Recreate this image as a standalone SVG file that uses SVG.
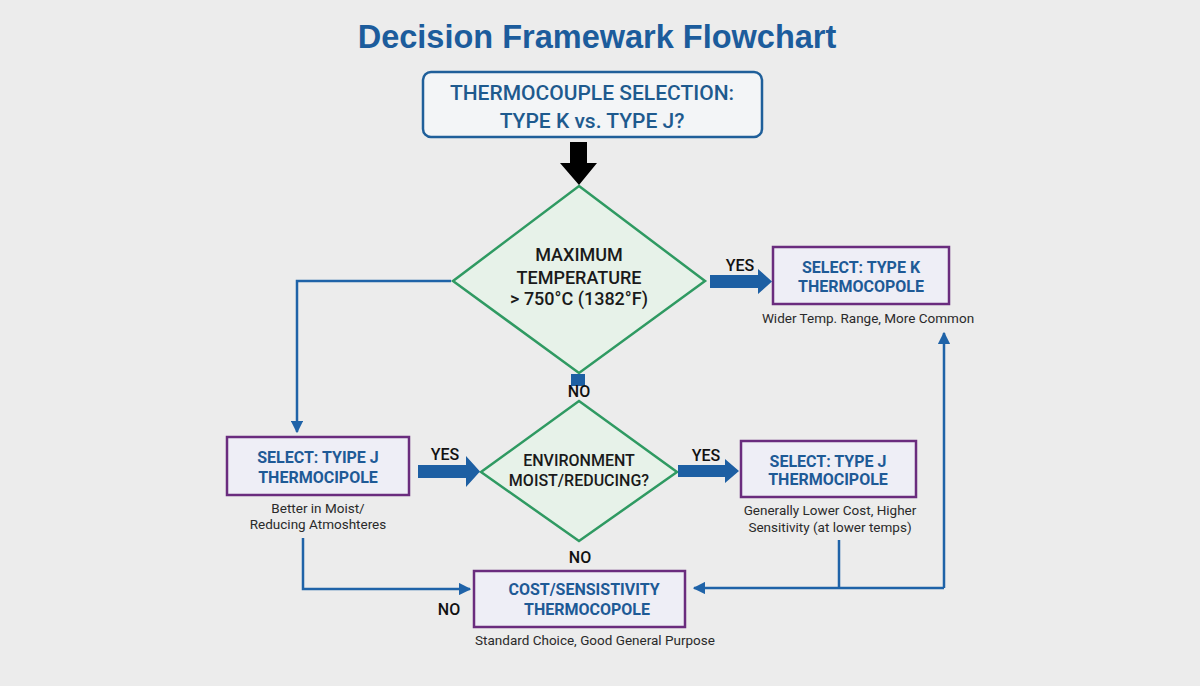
<svg xmlns="http://www.w3.org/2000/svg" width="1200" height="686" viewBox="0 0 1200 686">
<defs>
<style>
.title{font-family:"Liberation Sans",Arial,sans-serif;font-weight:700;font-size:32.5px;fill:#1c5c9c;text-anchor:middle}
.head{font-family:Roboto,"Liberation Sans",sans-serif;font-weight:500;font-size:21px;fill:#1e5a8e;text-anchor:middle}
.dtxt{font-family:Roboto,"Liberation Sans",sans-serif;font-weight:500;font-size:18px;fill:#1a1a1a;text-anchor:middle}
.btxt{font-family:Roboto,"Liberation Sans",sans-serif;font-weight:700;font-size:16px;fill:#1e5a96;text-anchor:middle}
.cap{font-family:Roboto,"Liberation Sans",sans-serif;font-size:13.5px;fill:#2a2a2a;text-anchor:middle}
.lbl{font-family:Roboto,"Liberation Sans",sans-serif;font-weight:500;font-size:16px;fill:#111;text-anchor:middle}
.diamond{fill:#e7f2e9;stroke:#2f9a62;stroke-width:2.5}
.box{fill:#eeeef6;stroke:#6a2c7e;stroke-width:2.5}
.line{fill:none;stroke:#1f63a8;stroke-width:2.5}
.fat{fill:#1d5fa3}
</style>
<marker id="ah" viewBox="0 0 10 10" refX="9" refY="5" markerWidth="5" markerHeight="5" orient="auto" markerUnits="strokeWidth">
<path d="M0,0 L10,5 L0,10 z" fill="#1f63a8"/>
</marker>
</defs>
<rect width="1200" height="686" fill="#ececec"/>
<text class="title" x="597" y="48">Decision Framewark Flowchart</text>

<g id="start">
<rect x="423" y="72" width="339" height="65" rx="8" fill="#f3f5f7" stroke="#1f5f9a" stroke-width="2.5"/>
<text class="head" x="592" y="100">THERMOCOUPLE SELECTION:</text>
<text class="head" x="592" y="128">TYPE K vs. TYPE J?</text>
</g>

<g id="decision-temp">
<polygon class="diamond" points="579,186 705,281 579,373 453,281"/>
<text class="dtxt" x="579" y="261">MAXIMUM</text>
<text class="dtxt" x="579" y="284">TEMPERATURE</text>
<text class="dtxt" x="579" y="305">&gt; 750°C (1382°F)</text>
</g>

<g id="decision-env">
<polygon class="diamond" points="579,401 677,472 579,541 481,472"/>
<text class="dtxt" x="579" y="466" style="font-size:16px">ENVIRONMENT</text>
<text class="dtxt" x="579" y="486" style="font-size:16px">MOIST/REDUCING?</text>
</g>

<g id="type-k">
<rect class="box" x="773" y="247" width="176" height="57"/>
<text class="btxt" x="861" y="273">SELECT: TYPE K</text>
<text class="btxt" x="861" y="292">THERMOCOPOLE</text>
<text class="cap" x="868" y="323">Wider Temp. Range, More Common</text>
</g>

<g id="type-j-left">
<rect class="box" x="227" y="437" width="182" height="58"/>
<text class="btxt" x="318" y="463">SELECT: TYIPE J</text>
<text class="btxt" x="318" y="483">THERMOCIPOLE</text>
<text class="cap" x="318" y="513">Better in Moist/</text>
<text class="cap" x="318" y="529">Reducing Atmoshteres</text>
</g>

<g id="type-j-right">
<rect class="box" x="741" y="441" width="175" height="56"/>
<text class="btxt" x="828" y="467">SELECT: TYPE J</text>
<text class="btxt" x="828" y="485">THERMOCIPOLE</text>
<text class="cap" x="830" y="515">Generally Lower Cost, Higher</text>
<text class="cap" x="830" y="532">Sensitivity (at lower temps)</text>
</g>

<g id="cost">
<rect class="box" x="474" y="571" width="211" height="56"/>
<text class="btxt" x="584" y="595">COST/SENSISTIVITY</text>
<text class="btxt" x="587" y="615">THERMOCOPOLE</text>
<text class="cap" x="595" y="645">Standard Choice, Good General Purpose</text>
</g>

<g id="connectors">
<path d="M570,142 H587 V163 H597 L579,185 L560,163 H570 Z" fill="#000"/>
<path class="line" d="M451,281 H297 V432" marker-end="url(#ah)"/>
<path class="fat" d="M710,275 H758 V269 L772,281.5 L758,294 V288 H710 Z"/>
<text class="lbl" x="740" y="271">YES</text>
<rect x="571" y="374" width="14" height="12" fill="#1d5fa3"/>
<text class="lbl" x="579" y="397">NO</text>
<path class="fat" d="M418,465 H466 V456 L480,471.5 L466,487 V478 H418 Z"/>
<text class="lbl" x="445" y="460">YES</text>
<path class="fat" d="M678,465 H725 V459 L739,471 L725,483 V477 H678 Z"/>
<text class="lbl" x="706" y="461">YES</text>
<text class="lbl" x="580" y="563">NO</text>
<path class="line" d="M303,538 V589 H470" marker-end="url(#ah)"/>
<text class="lbl" x="449" y="615">NO</text>
<path class="line" d="M839,540 V588"/>
<path class="line" d="M944,588 H694" marker-end="url(#ah)"/>
<path class="line" d="M944,588 V333" marker-end="url(#ah)"/>
</g>
</svg>
